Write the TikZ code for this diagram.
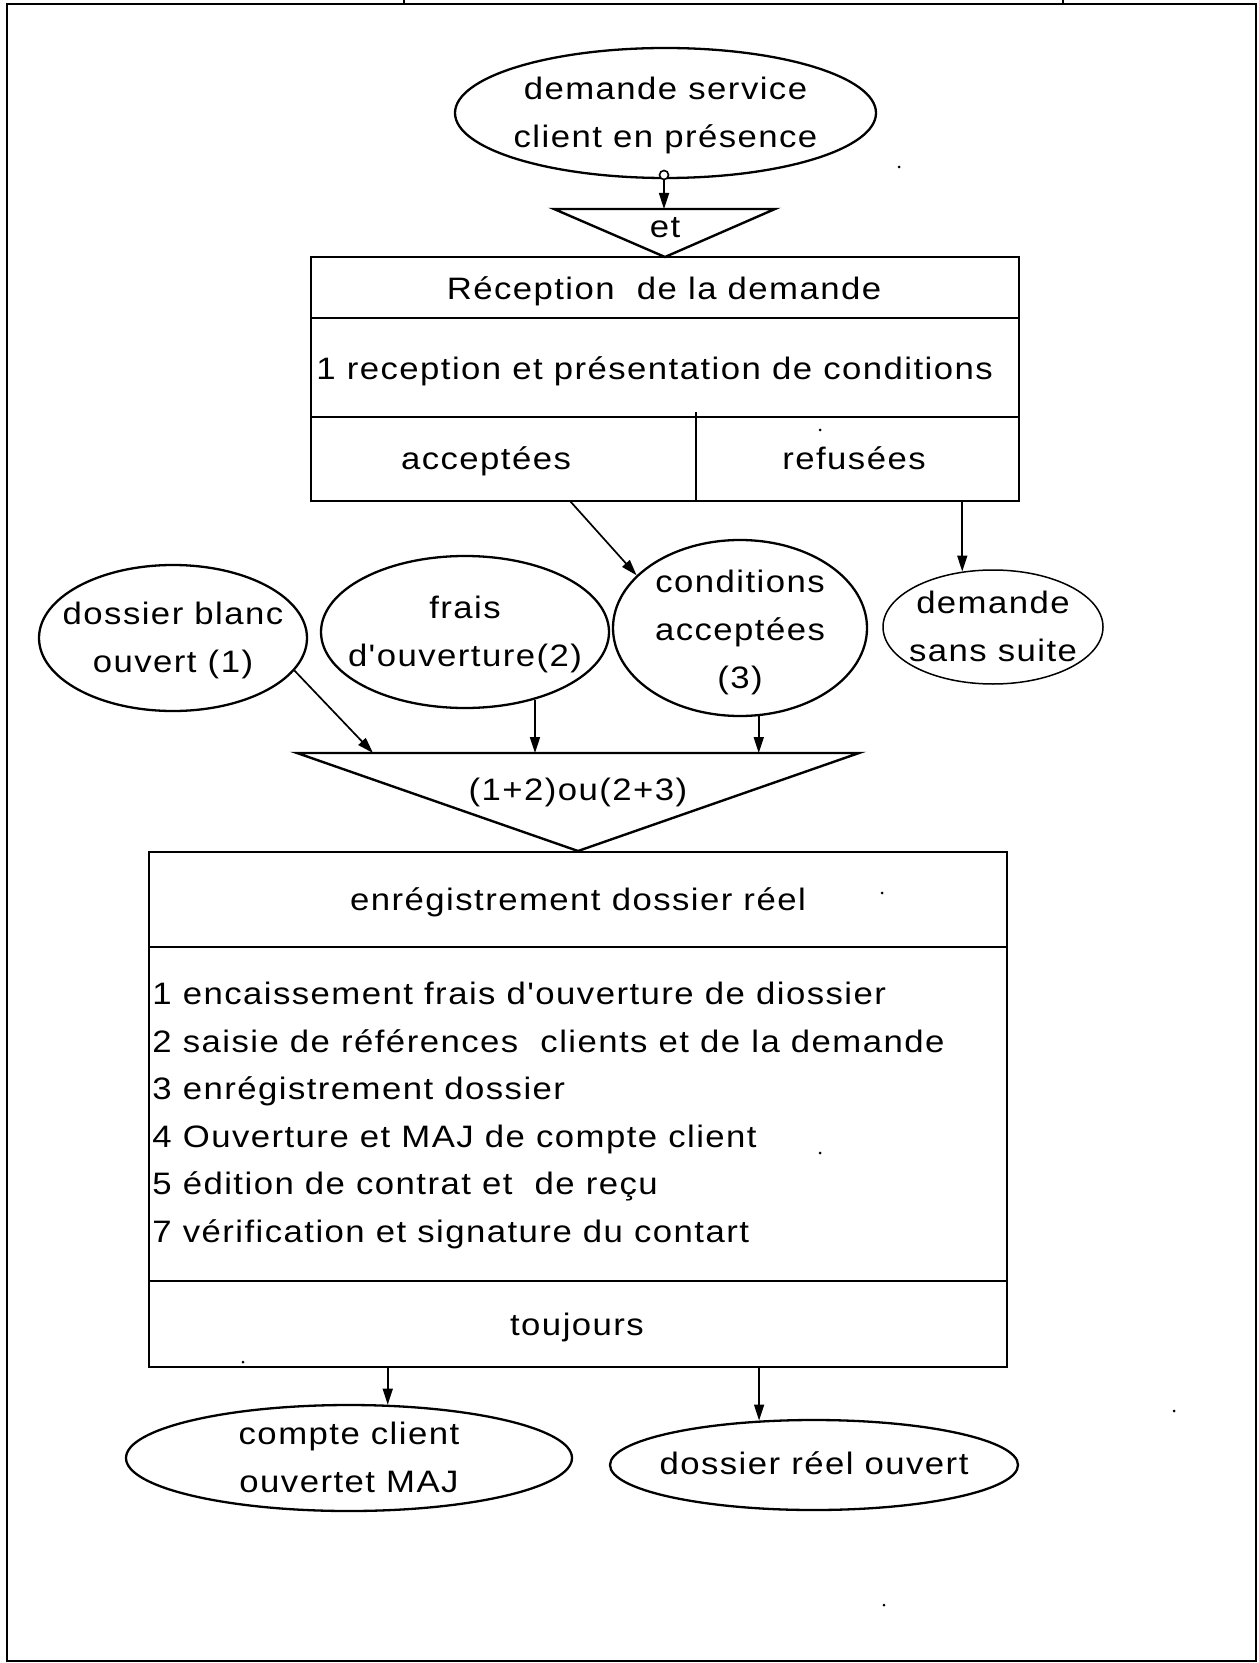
\documentclass[tikz,border=0pt]{standalone}
\usepackage{fontspec}
\newfontfamily\lbl{Liberation Sans}[FakeStretch=1.12,LetterSpace=4.7]
\usetikzlibrary{shapes.geometric,arrows.meta}

\begin{document}
\begin{tikzpicture}[x=0.5pt,y=-0.5pt,
  txt/.style={font=\lbl\fontsize{15.5pt}{23.9pt}\selectfont, inner sep=0pt,
    align=center, execute at begin node=\strut, execute at end node=\strut},
  lines/.style={txt, yshift=-3.3pt},
  ell/.style={draw, ellipse, inner sep=0pt, line width=1.15pt},
  box/.style={draw, rectangle, inner sep=0pt, line width=1.2pt},
  rule/.style={line width=1.2pt, line join=miter},
  arr/.style={-{Triangle[length=8pt,width=5pt]}, line width=0.85pt},
  speck/.style={fill=black}]

\useasboundingbox (0,0) rectangle (1258,1663);

% page frame and the cut-off table edge above it
\draw[line width=1pt] (7,4) rectangle (1256,1661);
\draw[line width=0.8pt] (404,0) -- (404,4) (1063,0) -- (1063,4);

% incoming event
\node[ell, minimum width=210.5pt, minimum height=65pt] (req) at (665.5,113) {};
\node[lines] (req-t) at (req) {demande service\\client en présence};
\node[circle, draw, fill=white, inner sep=0pt, minimum size=4.5pt, line width=0.8pt] (ring) at (664,175) {};

% synchronisation "et"
\coordinate (et-l) at (554,209);
\coordinate (et-r) at (775,209);
\coordinate (et-b) at (665,257);
\coordinate (et-in) at (664,209);
\draw[rule] (et-l) -- (et-r) -- (et-b) -- cycle;
\node[txt] (et-t) at (665,228) {et};
\draw[arr] (ring.south) -- (et-in);

% operation: reception
\node[box, minimum width=354pt, minimum height=122pt] (rec) at (665,379) {};
\draw[rule] (311,318) -- (1019,318);
\draw[rule] (311,417) -- (1019,417);
\draw[rule] (696,412) -- (696,501);
\node[txt] (rec-t) at (664,290) {Réception\ \ de la demande};
\node[txt, anchor=west] (rec-1) at (316,370) {1 reception et présentation de conditions};
\node[txt] (acc) at (486,460) {acceptées};
\node[txt] (ref) at (854,460) {refusées};

% events feeding the second synchronisation
\node[ell, minimum width=134pt, minimum height=73pt] (dbo) at (173,638) {};
\node[lines] (dbo-t) at (dbo) {dossier blanc\\ouvert (1)};
\node[ell, minimum width=144pt, minimum height=76pt] (fra) at (465,632) {};
\node[lines] (fra-t) at (fra) {frais\\d'ouverture(2)};
\node[ell, minimum width=127pt, minimum height=88pt] (cnd) at (740,628) {};
\node[lines] (cnd-t) at (740,630) {conditions\\acceptées\\(3)};
\node[ell, line width=0.75pt, minimum width=110pt, minimum height=57pt] (dss) at (993,627) {};
\node[lines] (dss-t) at (dss) {demande\\sans suite};

\coordinate (acc-out) at (570,501);
\draw[arr] (acc-out) -- (cnd.153);
\draw[arr] (dss.119 |- rec.south) -- (dss.119);

% synchronisation (1+2)ou(2+3)
\coordinate (or-l) at (297,753);
\coordinate (or-r) at (859,753);
\coordinate (or-b) at (578,851);
\coordinate (or-in) at (373,753);
\draw[rule] (or-l) -- (or-r) -- (or-b) -- cycle;
\node[txt] (or-t) at (578,791) {(1+2)ou(2+3)};
\draw[arr] (dbo.-15) -- (or-in);
\draw[arr] (fra.-44) -- (fra.-44 |- or-l);
\draw[arr] (cnd.-78) -- (cnd.-78 |- or-l);

% operation: recording the real file
\node[box, minimum width=429pt, minimum height=257.5pt] (reg) at (578,1109.5) {};
\draw[rule] (149,947) -- (1007,947);
\draw[rule] (149,1281) -- (1007,1281);
\node[txt] (reg-t) at (578,901) {enrégistrement dossier réel};
\node[txt, anchor=west] (reg-1) at (152,995) {1 encaissement frais d'ouverture de diossier};
\node[txt, anchor=west] (reg-2) at (152,1042.5) {2 saisie de références\ \ clients et de la demande};
\node[txt, anchor=west] (reg-3) at (152,1090) {3 enrégistrement dossier};
\node[txt, anchor=west] (reg-4) at (152,1137.5) {4 Ouverture et MAJ de compte client};
\node[txt, anchor=west] (reg-5) at (152,1185) {5 édition de contrat et\ \ de reçu};
\node[txt, anchor=west] (reg-6) at (152,1232.5) {7 vérification et signature du contart};
\node[txt] (tj) at (577,1326) {toujours};

% resulting events
\node[ell, minimum width=223pt, minimum height=53pt] (cpt) at (349,1458) {};
\node[lines] (cpt-t) at (cpt) {compte client\\ouvertet MAJ};
\node[ell, minimum width=204pt, minimum height=45pt] (dro) at (814,1465) {};
\node[txt] (dro-t) at (dro) {dossier réel ouvert};
\draw[arr] (cpt.54 |- reg.south) -- (cpt.54);
\draw[arr] (dro.141 |- reg.south) -- (dro.141);

% stray specks on the sheet
\foreach \p in {(899,167),(820,430),(882,893),(820,1153),(1174,1411),(884,1605),(243,1362)}
  \fill[speck] \p circle[radius=1.5];
\end{tikzpicture}
\end{document}
